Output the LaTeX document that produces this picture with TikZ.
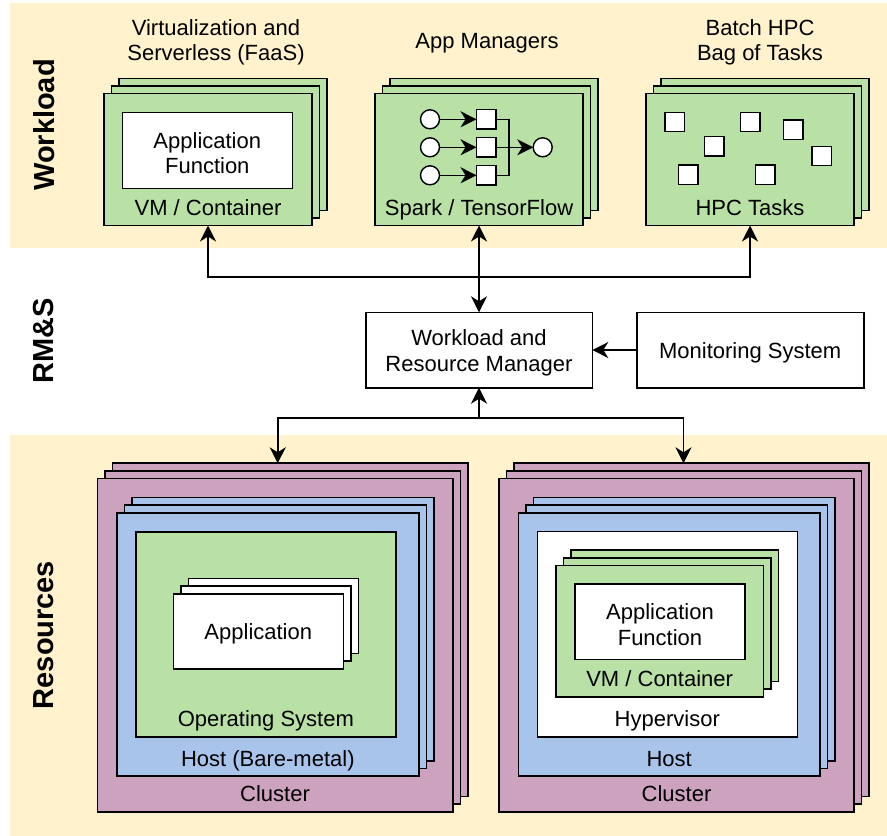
\documentclass[tikz,border=0pt]{standalone}
\usepackage{fontspec}
\setmainfont{Liberation Sans}
\usetikzlibrary{arrows.meta,calc}
\definecolor{band}{HTML}{FFF2CC}
\definecolor{grn}{HTML}{B9E0A5}
\definecolor{blu}{HTML}{A9C4EB}
\definecolor{pur}{HTML}{CDA2BE}
\newcommand\mystk[6]{%
  \node[box, fill=#6, minimum width=#4pt, minimum height=#5pt] (#1bb) at ({#2+15.2},{#3-15.2}) {};
  \node[box, fill=#6, minimum width=#4pt, minimum height=#5pt] (#1b) at ({#2+7.6},{#3-7.6}) {};
  \node[box, fill=#6, minimum width=#4pt, minimum height=#5pt] (#1) at (#2,#3) {};}
\begin{document}
\begin{tikzpicture}[x=1pt,y=-1pt,
  box/.style={draw=black, line width=1.6pt, inner sep=0pt, outer sep=0pt},
  txt/.style={font=\fontsize{22}{25.5}\selectfont, inner sep=0pt, text height=15.8pt, text depth=4.6pt, yshift=-3pt},
  mtxt/.style={font=\fontsize{22}{25.5}\selectfont, inner sep=0pt, align=center, yshift=-3pt},
  btxt/.style={font=\fontsize{29}{32}\selectfont\bfseries, inner sep=0pt, rotate=90},
  tip/.tip={Stealth[length=16pt,width=16pt,inset=5pt]},
  arr/.style={line width=1.6pt, -tip},
  darr/.style={line width=1.6pt, tip-tip},
  ln/.style={line width=1.6pt},
  circ/.style={draw=black, line width=1.4pt, fill=white, circle, minimum size=19pt, inner sep=0pt, outer sep=0pt},
  sq/.style={draw=black, line width=1.4pt, fill=white, minimum size=19.5pt, inner sep=0pt, outer sep=0pt}]
\useasboundingbox (0,0) rectangle (887,836);
% bands
\fill[band] (10,3) rectangle (887,247.5);
\fill[band] (10,435) rectangle (887,836);
\node[btxt] (lw) at (44,125) {Workload};
\node[btxt] (lr) at (44,341) {RM\&S};
\node[btxt] (lres) at (44,635) {Resources};
% workload titles
\node[mtxt] (t1) at (216,39.5) {Virtualization and\\Serverless (FaaS)};
\node[txt] (t2) at (487,40) {App Managers};
\node[mtxt] (t3) at (760,39.5) {Batch HPC\\Bag of Tasks};
% workload stacks
\mystk{vm}{208}{159.5}{208}{132}{grn}
\mystk{app}{479}{159.5}{208}{132}{grn}
\mystk{hpc}{750}{159.5}{208}{132}{grn}
\node[box, fill=white, minimum width=170pt, minimum height=76pt] (vmfn) at (207.3,150.3) {};
\node[mtxt] (vmfnt) at (vmfn) {Application\\Function};
\node[txt] (vml) at (208,207) {VM / Container};
\node[txt] (appl) at (479,207) {Spark / TensorFlow};
\node[txt] (hpcl) at (750,207) {HPC Tasks};
% DAG
\node[circ] (c1) at (430,119.3) {};
\node[circ] (c2) at (430,147.3) {};
\node[circ] (c3) at (430,175.3) {};
\node[sq] (s1) at (486.3,119.3) {};
\node[sq] (s2) at (486.3,147.3) {};
\node[sq] (s3) at (486.3,175.3) {};
\node[circ] (co) at (542.7,147.3) {};
\draw[arr] (c1) -- (s1);
\draw[arr] (c2) -- (s2);
\draw[arr] (c3) -- (s3);
\coordinate (j1) at (509,119.3);
\coordinate (j3) at (509,175.3);
\draw[ln] (s1.east) -- (j1) -- (j3) -- (s3.east);
\draw[arr] (s2) -- (co);
% HPC tasks
\node[sq] (k1) at (674.7,122) {};
\node[sq] (k2) at (750.3,122) {};
\node[sq] (k3) at (793.3,129.7) {};
\node[sq] (k4) at (714.3,146.3) {};
\node[sq] (k5) at (821.7,156) {};
\node[sq] (k6) at (688.3,174.7) {};
\node[sq] (k7) at (765.3,174.7) {};
% RM&S
\node[box, fill=white, minimum width=226.6pt, minimum height=75.4pt] (wrm) at (479,350) {};
\node[mtxt] (wrmt) at (wrm) {Workload and\\Resource Manager};
\node[box, fill=white, minimum width=227pt, minimum height=75.4pt] (mon) at (750.2,350) {};
\node[txt] (mont) at (mon) {Monitoring System};
\draw[arr] (mon) -- (wrm);
\coordinate (jt) at (479,276.7);
\draw[arr] (jt) -| (vm.south);
\draw[arr] (jt) -| (hpc.south);
\draw[darr] (app.south) -- (wrm.north);
\coordinate (jb) at (479,417.7);
\coordinate (lct) at (277.7,463.3);
\coordinate (rct) at (683.5,463.3);
\draw[arr] (jb) -- (wrm.south);
\draw[arr] (jb) -| (lct);
\draw[arr] (jb) -| (rct);
% resources left
\mystk{lc}{275}{645}{355.4}{333.4}{pur}
\mystk{lh}{267.85}{644.35}{302.3}{263.3}{blu}
\node[box, fill=grn, minimum width=260.3pt, minimum height=205pt] (os) at (265.85,634.2) {};
\mystk{la}{258.3}{631.2}{170}{75}{white}
\node[txt] (lat) at (258.3,631.2) {Application};
\node[txt] (osl) at (265.85,718.3) {Operating System};
\node[txt] (lhl) at (267.85,758.3) {Host (Bare-metal)};
\node[txt] (lcl) at (275,793.3) {Cluster};
% resources right
\mystk{rc}{676.5}{645}{355}{333.4}{pur}
\mystk{rh}{669.15}{644.35}{301.7}{263.3}{blu}
\node[box, fill=white, minimum width=260pt, minimum height=205.4pt] (hv) at (667.3,634) {};
\mystk{rv}{659.65}{631}{207.3}{131.4}{grn}
\node[box, fill=white, minimum width=170pt, minimum height=75.3pt] (rfn) at (660,621.65) {};
\node[mtxt] (rfnt) at (rfn) {Application\\Function};
\node[txt] (rvl) at (659.65,677.7) {VM / Container};
\node[txt] (hvl) at (667.3,718.3) {Hypervisor};
\node[txt] (rhl) at (669.15,758.3) {Host};
\node[txt] (rcl) at (676.5,793.3) {Cluster};
\end{tikzpicture}
\end{document}
